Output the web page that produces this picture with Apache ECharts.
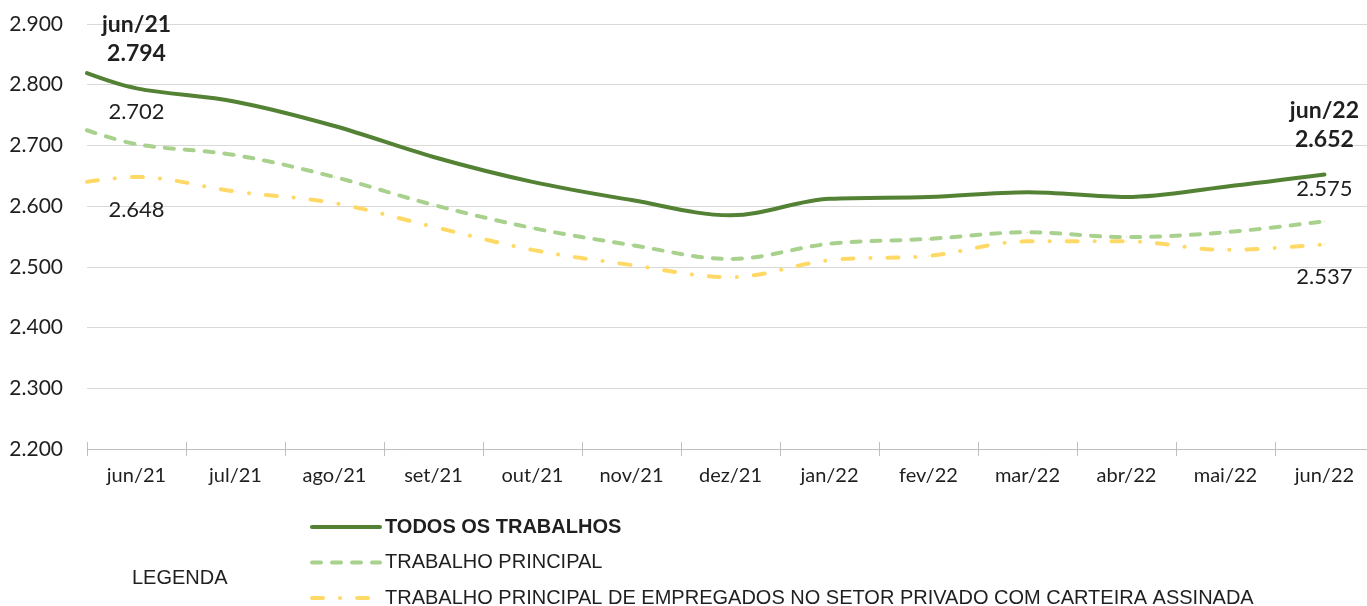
<!DOCTYPE html>
<html>
<head>
<meta charset="utf-8">
<script src="https://cdn.jsdelivr.net/npm/echarts@6/dist/echarts.min.js"></script>
<style>
  html, body { margin: 0; padding: 0; background: #fff; }
  #chart { width: 1367px; height: 606px; }
</style>
</head>
<body>
<div id="chart"></div>
<script>
// meses (eixo x)
var months = ['jun/21', 'jul/21', 'ago/21', 'set/21', 'out/21', 'nov/21', 'dez/21',
              'jan/22', 'fev/22', 'mar/22', 'abr/22', 'mai/22', 'jun/22'];

// séries, em R$
var todos     = [2794, 2772, 2732, 2681, 2640, 2610, 2585, 2612, 2615, 2623, 2615, 2632, 2652];
var principal = [2702, 2684, 2648, 2602, 2564, 2536, 2513, 2538, 2546, 2557, 2549, 2557, 2575];
var carteira  = [2648, 2624, 2605, 2566, 2528, 2503, 2483, 2511, 2518, 2542, 2542, 2528, 2537];

// valor de cada linha na borda esquerda do gráfico
var todosEdge = 2819;
var principalEdge = 2725;
var carteiraEdge = 2640;

var yTicks = [2200, 2300, 2400, 2500, 2600, 2700, 2800, 2900];

var names = ['TODOS OS TRABALHOS', 'TRABALHO PRINCIPAL',
             'TRABALHO PRINCIPAL DE EMPREGADOS NO SETOR PRIVADO COM CARTEIRA ASSINADA'];

var fontFamily = 'Lato, "Open Sans", sans-serif';
var legendFont = '"Liberation Sans", Arial, sans-serif';
var textColor = '#1f1f1f';

function fmt(v) {
    return (v / 1000).toFixed(3);
}

// monta os pontos: borda esquerda + um ponto por mês
function buildData(edge, vals, labels) {
    var data = [[-0.5, edge]];
    vals.forEach(function (v, i) {
        var item = {value: [i, v]};
        if (labels[i]) {
            item.label = labels[i];
        }
        data.push(item);
    });
    return data;
}

var boldLabel = function () {
    return {
        show: true,
        position: 'top',
        distance: 20,
        align: 'center',
        fontSize: 23,
        lineHeight: 29,
        fontWeight: 'bold',
        fontFamily: fontFamily,
        color: textColor,
        formatter: function (p) {
            return months[p.value[0]] + '\n' + fmt(p.value[1]);
        }
    };
};

var plainLabel = function (pos) {
    return {
        show: true,
        position: pos,
        distance: 21,
        fontSize: 22,
        fontFamily: fontFamily,
        color: textColor,
        formatter: function (p) {
            return fmt(p.value[1]);
        }
    };
};

var last = months.length - 1;
var lblTodos = {}; lblTodos[0] = boldLabel(); lblTodos[last] = boldLabel();
var lblPrincipal = {}; lblPrincipal[0] = plainLabel('top'); lblPrincipal[last] = plainLabel('top');
var lblCarteira = {}; lblCarteira[0] = plainLabel('bottom'); lblCarteira[last] = plainLabel('bottom');

var tickPos = months.map(function (m, i) { return i - 0.5; });
var labelPos = months.map(function (m, i) { return i; });

var myChart = echarts.init(document.getElementById('chart'));

var option = {
    animation: false,
    backgroundColor: '#fff',
    title: {
        text: 'LEGENDA',
        left: 132,
        top: 568,
        padding: 0,
        textStyle: {fontSize: 20, fontWeight: 'normal', color: textColor, fontFamily: legendFont}
    },
    legend: {
        orient: 'vertical',
        left: 310,
        top: 517,
        height: 100,
        padding: 0,
        itemWidth: 68,
        itemHeight: 14,
        itemGap: 15.5,
        itemStyle: {opacity: 0},
        lineStyle: {width: 4},
        textStyle: {fontSize: 20, lineHeight: 20, color: textColor, fontFamily: legendFont},
        data: [
            {name: names[0], textStyle: {fontWeight: 'bold'}},
            names[1],
            names[2]
        ]
    },
    grid: {left: 87, right: 0, top: 24, bottom: 157},
    xAxis: [
        {
            type: 'value',
            min: -0.5,
            max: 12.43,
            axisLine: {show: true, onZero: false, lineStyle: {color: '#bfbfbf', width: 1}},
            axisTick: {show: true, customValues: tickPos, length: 7, lineStyle: {color: '#bfbfbf'}},
            axisLabel: {
                customValues: labelPos,
                margin: 17,
                fontSize: 20,
                color: textColor,
                fontFamily: fontFamily,
                formatter: function (v) { return months[Math.round(v)]; }
            },
            splitLine: {show: false}
        },
        {
            type: 'value',
            min: -0.5,
            max: 12.43,
            position: 'bottom',
            axisLine: {show: false, onZero: false},
            axisTick: {show: true, inside: true, customValues: tickPos, length: 7, lineStyle: {color: '#bfbfbf'}},
            axisLabel: {show: false},
            splitLine: {show: false}
        }
    ],
    yAxis: {
        type: 'value',
        min: yTicks[0],
        max: yTicks[yTicks.length - 1],
        interval: 100,
        axisLine: {show: false},
        axisTick: {show: false},
        axisLabel: {
            margin: 24,
            fontSize: 21,
            color: textColor,
            fontFamily: fontFamily,
            formatter: fmt
        },
        splitLine: {lineStyle: {color: '#d9d9d9', width: 1}}
    },
    series: [
        {
            name: names[2],
            type: 'line',
            smooth: 0.35,
            symbol: 'circle',
            symbolSize: 1,
            itemStyle: {color: '#ffd966'},
            lineStyle: {color: '#ffd966', width: 4, type: [11, 17, 0.1, 17], cap: 'round'},
            emphasis: {disabled: true},
            z: 2,
            data: buildData(carteiraEdge, carteira, lblCarteira)
        },
        {
            name: names[1],
            type: 'line',
            smooth: 0.35,
            symbol: 'circle',
            symbolSize: 1,
            itemStyle: {color: '#a9d18e'},
            lineStyle: {color: '#a9d18e', width: 4, type: [9, 11], cap: 'round'},
            emphasis: {disabled: true},
            z: 3,
            data: buildData(principalEdge, principal, lblPrincipal)
        },
        {
            name: names[0],
            type: 'line',
            smooth: 0.35,
            symbol: 'circle',
            symbolSize: 1,
            itemStyle: {color: '#548235'},
            lineStyle: {color: '#548235', width: 4, cap: 'round'},
            emphasis: {disabled: true},
            z: 4,
            data: buildData(todosEdge, todos, lblTodos)
        }
    ]
};

myChart.setOption(option);
</script>
</body>
</html>
